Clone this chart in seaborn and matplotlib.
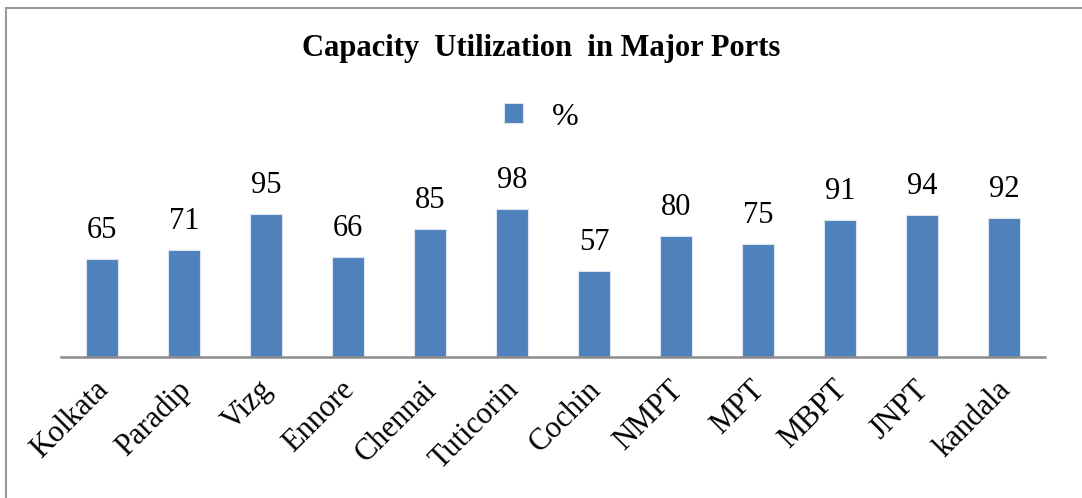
import matplotlib
matplotlib.use("Agg")
import matplotlib.pyplot as plt
import matplotlib.patches as mpatches
import matplotlib.transforms as mtransforms
import pandas as pd
import seaborn as sns

# data
ports = ["Kolkata", "Paradip", "Vizg", "Ennore", "Chennai", "Tuticorin",
         "Cochin", "NMPT", "MPT", "MBPT", "JNPT", "kandala"]
utilization = [65, 71, 95, 66, 85, 98, 57, 80, 75, 91, 94, 92]

df = pd.DataFrame({"port": ports, "pct": utilization})

sns.set_style("white")
plt.rcParams["font.family"] = ["Liberation Serif", "DejaVu Serif"]
plt.rcParams["text.color"] = "black"
plt.rcParams["xtick.color"] = "black"

fig = plt.figure(figsize=(10.82, 4.98), dpi=100)
ax = fig.add_axes([0.0564, 0.2831, 0.9094, 0.3032])

# excel-like blue bars
sns.barplot(data=df, x="port", y="pct", color="#4F81BD", saturation=1,
            width=0.4, edgecolor="#DCE6F2", linewidth=0.8, label="%", ax=ax)

ax.set_ylim(0, 100)
ax.set_xlim(-0.5, len(ports) - 0.5)
ax.set_xlabel("")
ax.set_ylabel("")
ax.set_yticks([])

# value labels on top of bars
ax.bar_label(ax.containers[0], fontsize=22, padding=10, clip_on=False,
             color="black")

for side in ["left", "right", "top"]:
    ax.spines[side].set_visible(False)
ax.spines["bottom"].set_color("#8C8C8C")
ax.spines["bottom"].set_linewidth(1.8)

ax.tick_params(axis="x", length=0, pad=13)
ax.set_xticks(range(len(ports)))
ax.set_xticklabels(ports, rotation=45, ha="right", rotation_mode="anchor",
                   fontsize=22)
# nudge the rotated labels a little to the left
shift = mtransforms.ScaledTranslation(-8 / 100, 0, fig.dpi_scale_trans)
for lbl in ax.get_xticklabels():
    lbl.set_transform(lbl.get_transform() + shift)

fig.text(0.5, 0.903, "Capacity  Utilization  in Major Ports", ha="center",
         va="center", fontsize=22, fontweight="bold")

handles, labels = ax.get_legend_handles_labels()
if ax.get_legend() is not None:
    ax.get_legend().remove()
fig.legend(handles, labels, loc="center", bbox_to_anchor=(0.5, 0.765),
           frameon=False, fontsize=23, handlelength=0.6, handleheight=0.6,
           handletextpad=0.9)

# outer chart frame, running off the right and bottom edge like the reference
frame = mpatches.Rectangle((6 / 1082, -0.05), 1.2, 1 - 8 / 498 + 0.05,
                           transform=fig.transFigure, fill=False,
                           edgecolor="#999999", linewidth=1.5)
fig.patches.append(frame)

fig.savefig("out.png", dpi=100)
